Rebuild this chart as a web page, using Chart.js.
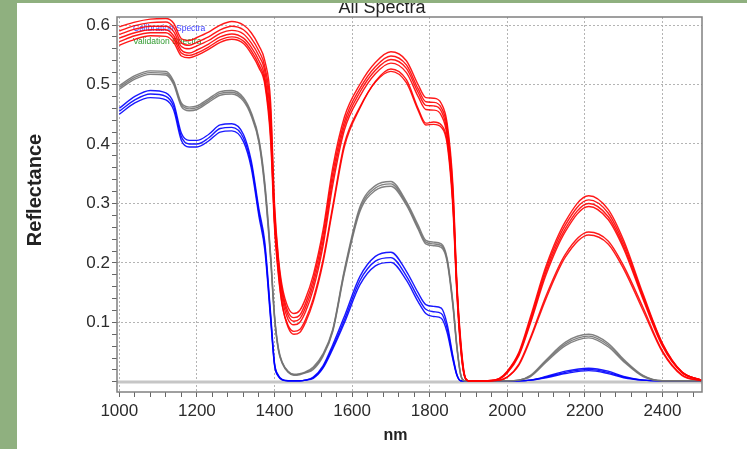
<!DOCTYPE html>
<html>
<head>
<meta charset="utf-8">
<script src="https://cdn.jsdelivr.net/npm/chart.js@4.4.1/dist/chart.umd.min.js"></script>
<style>
    html, body { margin: 0; padding: 0; }
    body { width: 747px; height: 449px; background: #8fb07f; overflow: hidden; position: relative; }
    #panel { position: absolute; left: 17px; top: 3px; width: 730px; height: 446px; background: #fff; }
</style>
</head>
<body>
<div id="panel"><canvas id="grafico" width="730" height="446"></canvas></div>
<script>
const titulo = "All Spectra";
const tituloX = "nm";
const tituloY = "Reflectance";
const leyenda = ["Calibration Spectra", "Validation Spectra"];

const xMarcas = [1000, 1200, 1400, 1600, 1800, 2000, 2200, 2400];
const yMarcas = [0.1, 0.2, 0.3, 0.4, 0.5, 0.6];

const longitudes = [1000, 1040, 1080, 1120, 1140, 1160, 1180, 1200, 1230, 1260, 1290, 1320, 1340, 1360, 1375, 1390, 1400, 1410, 1420, 1435, 1450, 1465, 1480, 1500, 1525, 1550, 1580, 1620, 1660, 1700, 1740, 1770, 1790, 1810, 1830, 1845, 1860, 1870, 1880, 1890, 1900, 1950, 1980, 2000, 2030, 2060, 2100, 2150, 2210, 2260, 2300, 2350, 2400, 2450, 2500];

// espectros rojos
const rojo1 = [0.597, 0.605, 0.610, 0.611, 0.603, 0.577, 0.574, 0.579, 0.588, 0.600, 0.606, 0.600, 0.587, 0.565, 0.540, 0.470, 0.300, 0.210, 0.160, 0.125, 0.115, 0.120, 0.140, 0.180, 0.255, 0.360, 0.445, 0.500, 0.537, 0.555, 0.540, 0.500, 0.478, 0.477, 0.468, 0.435, 0.330, 0.170, 0.070, 0.012, 0.002, 0.002, 0.006, 0.018, 0.050, 0.110, 0.195, 0.270, 0.313, 0.290, 0.238, 0.148, 0.065, 0.017, 0.003];
const rojo2 = [0.590, 0.599, 0.604, 0.605, 0.596, 0.570, 0.566, 0.571, 0.580, 0.592, 0.598, 0.592, 0.578, 0.556, 0.530, 0.455, 0.290, 0.205, 0.154, 0.118, 0.108, 0.112, 0.132, 0.172, 0.246, 0.350, 0.437, 0.493, 0.530, 0.548, 0.533, 0.493, 0.471, 0.470, 0.461, 0.428, 0.320, 0.165, 0.066, 0.011, 0.002, 0.002, 0.006, 0.017, 0.048, 0.106, 0.190, 0.264, 0.306, 0.284, 0.233, 0.145, 0.064, 0.017, 0.003];
const rojo3 = [0.584, 0.593, 0.598, 0.598, 0.589, 0.564, 0.560, 0.565, 0.574, 0.586, 0.591, 0.585, 0.570, 0.548, 0.522, 0.440, 0.280, 0.200, 0.148, 0.112, 0.102, 0.106, 0.125, 0.164, 0.236, 0.340, 0.430, 0.487, 0.524, 0.542, 0.527, 0.487, 0.465, 0.464, 0.455, 0.420, 0.310, 0.160, 0.062, 0.010, 0.002, 0.002, 0.005, 0.016, 0.046, 0.102, 0.185, 0.258, 0.300, 0.278, 0.228, 0.142, 0.062, 0.016, 0.003];
const rojo4 = [0.578, 0.587, 0.592, 0.592, 0.582, 0.558, 0.553, 0.558, 0.568, 0.580, 0.585, 0.578, 0.563, 0.540, 0.512, 0.425, 0.270, 0.190, 0.140, 0.105, 0.096, 0.100, 0.118, 0.156, 0.228, 0.330, 0.423, 0.480, 0.518, 0.536, 0.520, 0.480, 0.458, 0.457, 0.448, 0.413, 0.300, 0.155, 0.058, 0.009, 0.002, 0.002, 0.005, 0.015, 0.044, 0.099, 0.180, 0.253, 0.295, 0.273, 0.224, 0.139, 0.060, 0.016, 0.003];
const rojo5 = [0.572, 0.582, 0.587, 0.587, 0.577, 0.553, 0.549, 0.553, 0.563, 0.575, 0.580, 0.573, 0.557, 0.533, 0.505, 0.415, 0.270, 0.185, 0.130, 0.092, 0.080, 0.083, 0.100, 0.135, 0.200, 0.290, 0.395, 0.460, 0.505, 0.526, 0.508, 0.460, 0.435, 0.437, 0.432, 0.405, 0.300, 0.160, 0.060, 0.010, 0.002, 0.002, 0.003, 0.008, 0.030, 0.075, 0.145, 0.215, 0.252, 0.237, 0.195, 0.125, 0.052, 0.012, 0.002];
const rojo6 = [0.566, 0.576, 0.582, 0.581, 0.571, 0.548, 0.545, 0.549, 0.559, 0.571, 0.576, 0.569, 0.552, 0.528, 0.500, 0.405, 0.260, 0.180, 0.128, 0.095, 0.085, 0.088, 0.105, 0.140, 0.205, 0.295, 0.400, 0.462, 0.504, 0.522, 0.503, 0.457, 0.432, 0.433, 0.428, 0.400, 0.290, 0.150, 0.055, 0.009, 0.002, 0.002, 0.003, 0.008, 0.028, 0.072, 0.140, 0.210, 0.247, 0.232, 0.190, 0.120, 0.050, 0.011, 0.002];

// espectros grises
const gris1 = [0.498, 0.515, 0.523, 0.522, 0.506, 0.469, 0.462, 0.464, 0.476, 0.488, 0.490, 0.478, 0.453, 0.408, 0.335, 0.215, 0.113, 0.057, 0.033, 0.018, 0.013, 0.014, 0.017, 0.025, 0.047, 0.088, 0.188, 0.294, 0.330, 0.337, 0.303, 0.264, 0.238, 0.235, 0.232, 0.208, 0.133, 0.062, 0.013, 0.002, 0.002, 0.002, 0.002, 0.002, 0.003, 0.011, 0.037, 0.067, 0.080, 0.065, 0.038, 0.011, 0.002, 0.002, 0.002];
const gris2 = [0.495, 0.512, 0.520, 0.519, 0.503, 0.466, 0.459, 0.461, 0.473, 0.485, 0.487, 0.475, 0.450, 0.405, 0.330, 0.210, 0.110, 0.055, 0.032, 0.017, 0.012, 0.013, 0.016, 0.023, 0.045, 0.086, 0.185, 0.290, 0.326, 0.333, 0.300, 0.260, 0.235, 0.232, 0.229, 0.205, 0.130, 0.060, 0.012, 0.002, 0.002, 0.002, 0.002, 0.002, 0.003, 0.010, 0.035, 0.064, 0.077, 0.062, 0.036, 0.010, 0.002, 0.002, 0.002];
const gris3 = [0.492, 0.509, 0.517, 0.516, 0.500, 0.463, 0.456, 0.458, 0.470, 0.482, 0.484, 0.472, 0.447, 0.402, 0.325, 0.205, 0.107, 0.053, 0.031, 0.016, 0.011, 0.012, 0.015, 0.021, 0.043, 0.084, 0.182, 0.286, 0.322, 0.329, 0.297, 0.257, 0.232, 0.229, 0.226, 0.202, 0.127, 0.058, 0.011, 0.002, 0.002, 0.002, 0.002, 0.002, 0.003, 0.009, 0.033, 0.061, 0.074, 0.059, 0.034, 0.009, 0.002, 0.002, 0.002];

// espectros azules
const azul1 = [0.460, 0.480, 0.490, 0.486, 0.469, 0.418, 0.406, 0.406, 0.416, 0.432, 0.434, 0.416, 0.372, 0.290, 0.235, 0.115, 0.032, 0.011, 0.004, 0.002, 0.002, 0.002, 0.003, 0.008, 0.027, 0.062, 0.110, 0.177, 0.211, 0.218, 0.186, 0.150, 0.130, 0.127, 0.124, 0.097, 0.043, 0.013, 0.002, 0.002, 0.002, 0.002, 0.002, 0.002, 0.002, 0.003, 0.009, 0.018, 0.023, 0.018, 0.009, 0.003, 0.002, 0.002, 0.002];
const azul2 = [0.455, 0.474, 0.484, 0.480, 0.463, 0.412, 0.400, 0.400, 0.410, 0.426, 0.428, 0.410, 0.366, 0.284, 0.228, 0.110, 0.030, 0.010, 0.004, 0.002, 0.002, 0.002, 0.003, 0.007, 0.025, 0.058, 0.104, 0.170, 0.203, 0.209, 0.178, 0.142, 0.122, 0.118, 0.115, 0.090, 0.040, 0.012, 0.002, 0.002, 0.002, 0.002, 0.002, 0.002, 0.002, 0.003, 0.008, 0.016, 0.021, 0.016, 0.008, 0.003, 0.002, 0.002, 0.002];
const azul3 = [0.450, 0.469, 0.478, 0.474, 0.457, 0.406, 0.395, 0.395, 0.405, 0.420, 0.422, 0.404, 0.360, 0.278, 0.222, 0.105, 0.028, 0.009, 0.003, 0.002, 0.002, 0.002, 0.003, 0.006, 0.023, 0.055, 0.099, 0.163, 0.195, 0.201, 0.171, 0.135, 0.115, 0.110, 0.107, 0.083, 0.037, 0.011, 0.002, 0.002, 0.002, 0.002, 0.002, 0.002, 0.002, 0.003, 0.007, 0.014, 0.019, 0.014, 0.007, 0.003, 0.002, 0.002, 0.002];

const fuente = '"Liberation Sans", Arial, sans-serif';

function serie(valores, color) {
    return {
        data: longitudes.map((x, i) => ({ x: x, y: valores[i] })),
        borderColor: color,
        borderWidth: 1.4,
        pointRadius: 0,
        fill: false,
        cubicInterpolationMode: 'monotone'
    };
}

const esMayorX = (v) => xMarcas.includes(v);
const esMayorY = (v) => yMarcas.some(m => Math.abs(m - v) < 1e-6);

const marcoPlugin = {
    id: 'marco',
    beforeDatasetsDraw(chart) {
        const { ctx, chartArea: a, scales: { y } } = chart;
        const y0 = y.getPixelForValue(0);
        ctx.save();
        ctx.strokeStyle = '#c6c6c6';
        ctx.lineWidth = 3;
        ctx.beginPath();
        ctx.moveTo(a.left, y0);
        ctx.lineTo(a.right, y0);
        ctx.stroke();
        ctx.font = '8.5px ' + fuente;
        ctx.textBaseline = 'middle';
        ctx.fillStyle = '#3a3aff';
        ctx.fillText(leyenda[0], a.left + 16, a.top + 12);
        ctx.fillStyle = '#2f9a2f';
        ctx.fillText(leyenda[1], a.left + 16, a.top + 24.7);
        ctx.restore();
    },
    afterDraw(chart) {
        const { ctx, chartArea: a } = chart;
        ctx.save();
        ctx.strokeStyle = '#808080';
        ctx.lineWidth = 1.5;
        ctx.strokeRect(a.left, a.top, a.right - a.left, a.bottom - a.top);
        ctx.fillStyle = '#222';
        ctx.textAlign = 'center';
        ctx.textBaseline = 'alphabetic';
        ctx.font = '18px ' + fuente;
        ctx.fillText(titulo, chart.width / 2, 10);
        ctx.textBaseline = 'middle';
        ctx.font = 'bold 16px ' + fuente;
        ctx.fillText(tituloX, (a.left + a.right) / 2 - 14, 433);
        ctx.translate(18, 187);
        ctx.rotate(-Math.PI / 2);
        ctx.font = 'bold 20px ' + fuente;
        ctx.fillText(tituloY, 0, 0);
        ctx.restore();
    }
};

document.addEventListener("DOMContentLoaded", function () {
    const datasets = [
        serie(rojo1, 'rgba(255, 0, 0, 0.9)'),
        serie(rojo2, 'rgba(255, 0, 0, 0.9)'),
        serie(rojo3, 'rgba(255, 0, 0, 0.9)'),
        serie(rojo4, 'rgba(255, 0, 0, 0.9)'),
        serie(rojo5, 'rgba(255, 0, 0, 0.9)'),
        serie(rojo6, 'rgba(255, 0, 0, 0.9)'),
        serie(gris1, 'rgba(115, 115, 115, 0.9)'),
        serie(gris2, 'rgba(115, 115, 115, 0.9)'),
        serie(gris3, 'rgba(115, 115, 115, 0.9)'),
        serie(azul1, 'rgba(0, 0, 255, 0.9)'),
        serie(azul2, 'rgba(0, 0, 255, 0.9)'),
        serie(azul3, 'rgba(0, 0, 255, 0.9)')
    ];

    new Chart(document.getElementById('grafico').getContext('2d'), {
        type: 'line',
        data: { datasets: datasets },
        plugins: [marcoPlugin],
        options: {
            responsive: false,
            animation: false,
            layout: { padding: { left: 0, top: 14, right: 45, bottom: 0 } },
            plugins: { legend: { display: false }, tooltip: { enabled: false } },
            scales: {
                x: {
                    type: 'linear',
                    min: 994,
                    max: 2502,
                    afterBuildTicks: (eje) => {
                        const t = [];
                        for (let v = 1000; v <= 2480; v += 40) t.push({ value: v });
                        eje.ticks = t;
                    },
                    afterFit: (eje) => { eje.height = 57; },
                    border: { display: false, dash: [2, 2] },
                    grid: {
                        color: (c) => (c.tick && esMayorX(c.tick.value)) ? '#b4b4b4' : 'rgba(0,0,0,0)',
                        lineWidth: 1,
                        tickColor: '#666',
                        tickLength: 5
                    },
                    ticks: {
                        autoSkip: false,
                        maxRotation: 0,
                        padding: 4,
                        color: '#2b2b2b',
                        font: { family: fuente, size: 17 },
                        callback: (v) => esMayorX(v) ? String(v) : ''
                    }
                },
                y: {
                    type: 'linear',
                    min: -0.017,
                    max: 0.6135,
                    afterBuildTicks: (eje) => {
                        const t = [];
                        for (let i = 0; i <= 30; i++) t.push({ value: Math.round(i * 2) / 100 });
                        eje.ticks = t;
                    },
                    afterFit: (eje) => { eje.width = 100; },
                    border: { display: false, dash: [2, 2] },
                    grid: {
                        color: (c) => (c.tick && esMayorY(c.tick.value)) ? '#b4b4b4' : 'rgba(0,0,0,0)',
                        lineWidth: 1,
                        tickColor: '#666',
                        tickLength: 5
                    },
                    ticks: {
                        autoSkip: false,
                        padding: 2,
                        color: '#2b2b2b',
                        font: { family: fuente, size: 17 },
                        callback: (v) => esMayorY(v) ? v.toFixed(1) : ''
                    }
                }
            }
        }
    });
});
</script>
</body>
</html>
